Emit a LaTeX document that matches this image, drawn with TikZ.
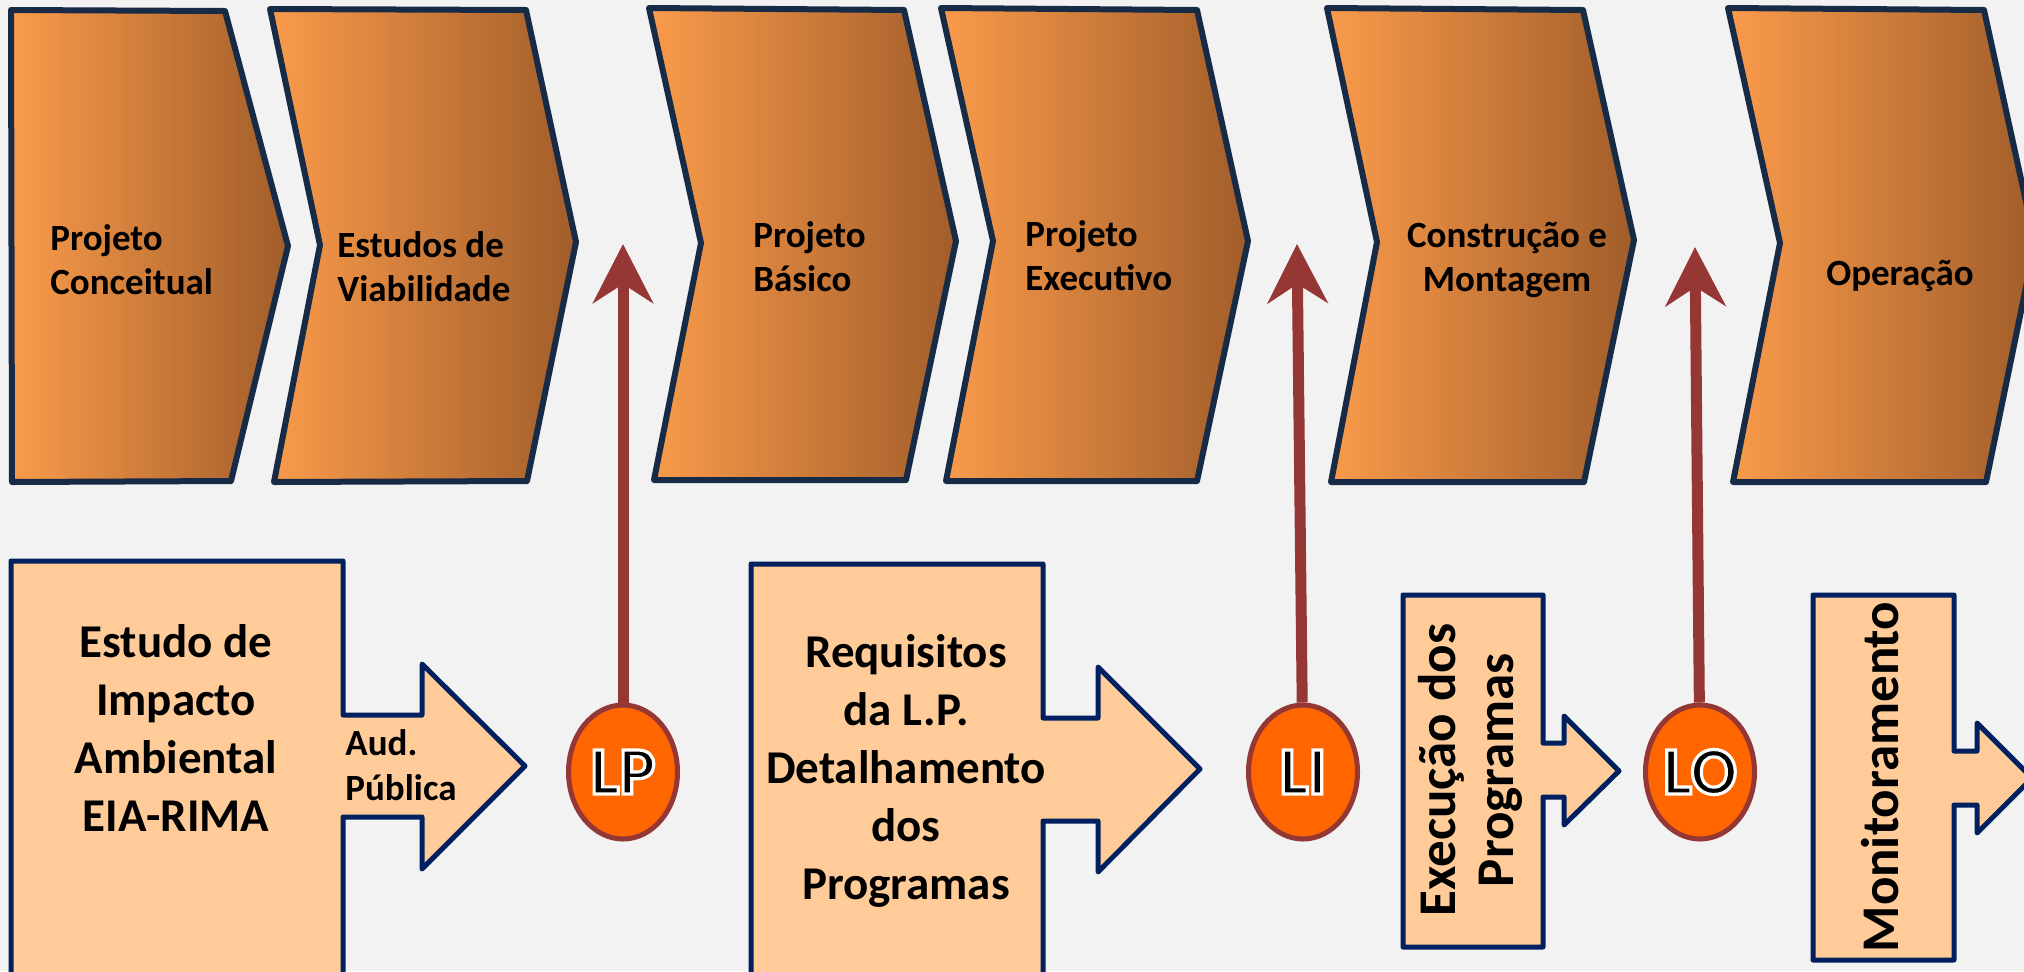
\documentclass[tikz,border=0pt]{standalone}
\usepackage{fontspec}
\setmainfont{Carlito}
\usepackage{tikz}
\usetikzlibrary{shapes.geometric}
\usetikzlibrary{arrows.meta}

\definecolor{fundo}{HTML}{F2F2F2}
\definecolor{faseA}{HTML}{FA9B4B}
\definecolor{faseB}{HTML}{A15D2A}
\definecolor{linhafase}{HTML}{172B47}
\definecolor{corcaixa}{HTML}{FFCC99}
\definecolor{linhacaixa}{HTML}{002060}
\definecolor{corlic}{HTML}{FF6600}
\definecolor{corseta}{HTML}{953735}

\newcommand\contorno[1]{\special{pdf:literal direct q 2 Tr 1.6 w 1 1 1 RG}#1\special{pdf:literal direct Q}}

\tikzset{
  fase/.style={draw=linhafase, line width=3pt, line join=round, left color=faseA, right color=faseB},
  caixa/.style={draw=linhacaixa, fill=corcaixa, line width=2.5pt, line join=round},
  txtfase/.style={inner sep=0pt, align=left, font=\fontsize{18.5pt}{22pt}\selectfont\bfseries},
  txtcaixa/.style={inner sep=0pt, align=center, font=\fontsize{23.5pt}{29pt}\selectfont\bfseries},
  txtvert/.style={inner sep=0pt, align=center, rotate=90, font=\fontsize{26.5pt}{29pt}\selectfont\bfseries},
  licenca/.style={ellipse, draw=corseta, fill=corlic, line width=2.5pt, minimum width=54.5pt, minimum height=67pt, inner sep=0pt, font=\fontsize{34pt}{34pt}\selectfont\bfseries},
  seta/.style={-{Stealth[length=29.5pt,width=30pt,inset=9.5pt]}, draw=corseta, line width=5.5pt},
}

\begin{document}
\begin{tikzpicture}[x=0.5pt, y=-0.5pt]
\clip (0,0) rectangle (2024,971);
\fill[fundo] (0,0) rectangle (2024,971);

\draw[fase] (11,10) -- (225,11) -- (288,246) -- (231,481) -- (12,482) -- cycle;
\draw[fase] (270,9) -- (526,10) -- (576,242) -- (527,481) -- (274,482) -- (320,245) -- cycle;
\draw[fase] (649,8) -- (904,10) -- (956,241) -- (906,480) -- (654,480) -- (701,243) -- cycle;
\draw[fase] (941,8) -- (1197,10) -- (1248,241) -- (1197,481) -- (946,481) -- (993,241) -- cycle;
\draw[fase] (1327,8) -- (1583,10) -- (1634,240) -- (1584,482) -- (1331,482) -- (1377,242) -- cycle;
\draw[fase] (1728,8) -- (1984,10) -- (2035,243) -- (1986,482) -- (1733,482) -- (1780,243) -- cycle;

\node[txtfase, anchor=west]   (conceitual)  at (50,260)    {Projeto\\Conceitual};
\node[txtfase, anchor=west]   (viabilidade) at (337,267)   {Estudos de\\Viabilidade};
\node[txtfase, anchor=west]   (basico)      at (753,257)   {Projeto\\Básico};
\node[txtfase, anchor=west]   (executivo)   at (1025,256)  {Projeto\\Executivo};
\node[txtfase, align=center]  (construcao)  at (1507,260)  {Construção e\\Montagem};
\node[txtfase]                (operacao)    at (1900,276)  {Operação};

\draw[caixa] (11,1000) -- (11,561) -- (343,561) -- (343,715) -- (422,715) -- (422,664) -- (525,766)
    -- (422,869) -- (422,817) -- (343,817) -- (343,1000) -- cycle;
\draw[caixa] (751,1000) -- (751,564) -- (1043,564) -- (1043,718) -- (1098,718) -- (1098,667) -- (1200,769)
    -- (1098,872) -- (1098,821) -- (1043,821) -- (1043,1000) -- cycle;
\draw[caixa] (1403,947) -- (1403,595) -- (1543,595) -- (1543,743) -- (1564,743) -- (1564,716) -- (1619,771)
    -- (1564,825) -- (1564,797) -- (1543,797) -- (1543,947) -- cycle;
\draw[caixa] (1813,960) -- (1813,595) -- (1954,595) -- (1954,751) -- (1977,751) -- (1977,723) -- (2032,778)
    -- (1977,833) -- (1977,805) -- (1954,805) -- (1954,960) -- cycle;

\node[txtcaixa]  (eia)          at (176,728)   {Estudo de\\Impacto\\Ambiental\\EIA-RIMA};
\node[txtfase, anchor=west, font=\fontsize{18.5pt}{22.5pt}\selectfont\bfseries]
                 (audiencia)    at (345,765)   {Aud.\\Pública};
\node[txtcaixa]  (requisitos)   at (906,771)   {Requisitos\\da L.P.\\Detalhamento\\dos\\Programas};
\node[txtvert]   (execucao)     at (1470,770)  {Execução dos\\Programas};
\node[txtvert]   (monitoramento) at (1880,777) {Monitoramento};

\coordinate (tipLP) at (623,244);
\coordinate (tipLI) at (1297,244);
\coordinate (tipLO) at (1695,247);

\node[licenca] (LP) at (623,772)  {\contorno{LP}}
    edge [seta] (tipLP);
\node[licenca] (LI) at (1303,772) {\contorno{LI}}
    edge [seta] (tipLI);
\node[licenca] (LO) at (1700,772) {\contorno{LO}}
    edge [seta] (tipLO);
\end{tikzpicture}
\end{document}
